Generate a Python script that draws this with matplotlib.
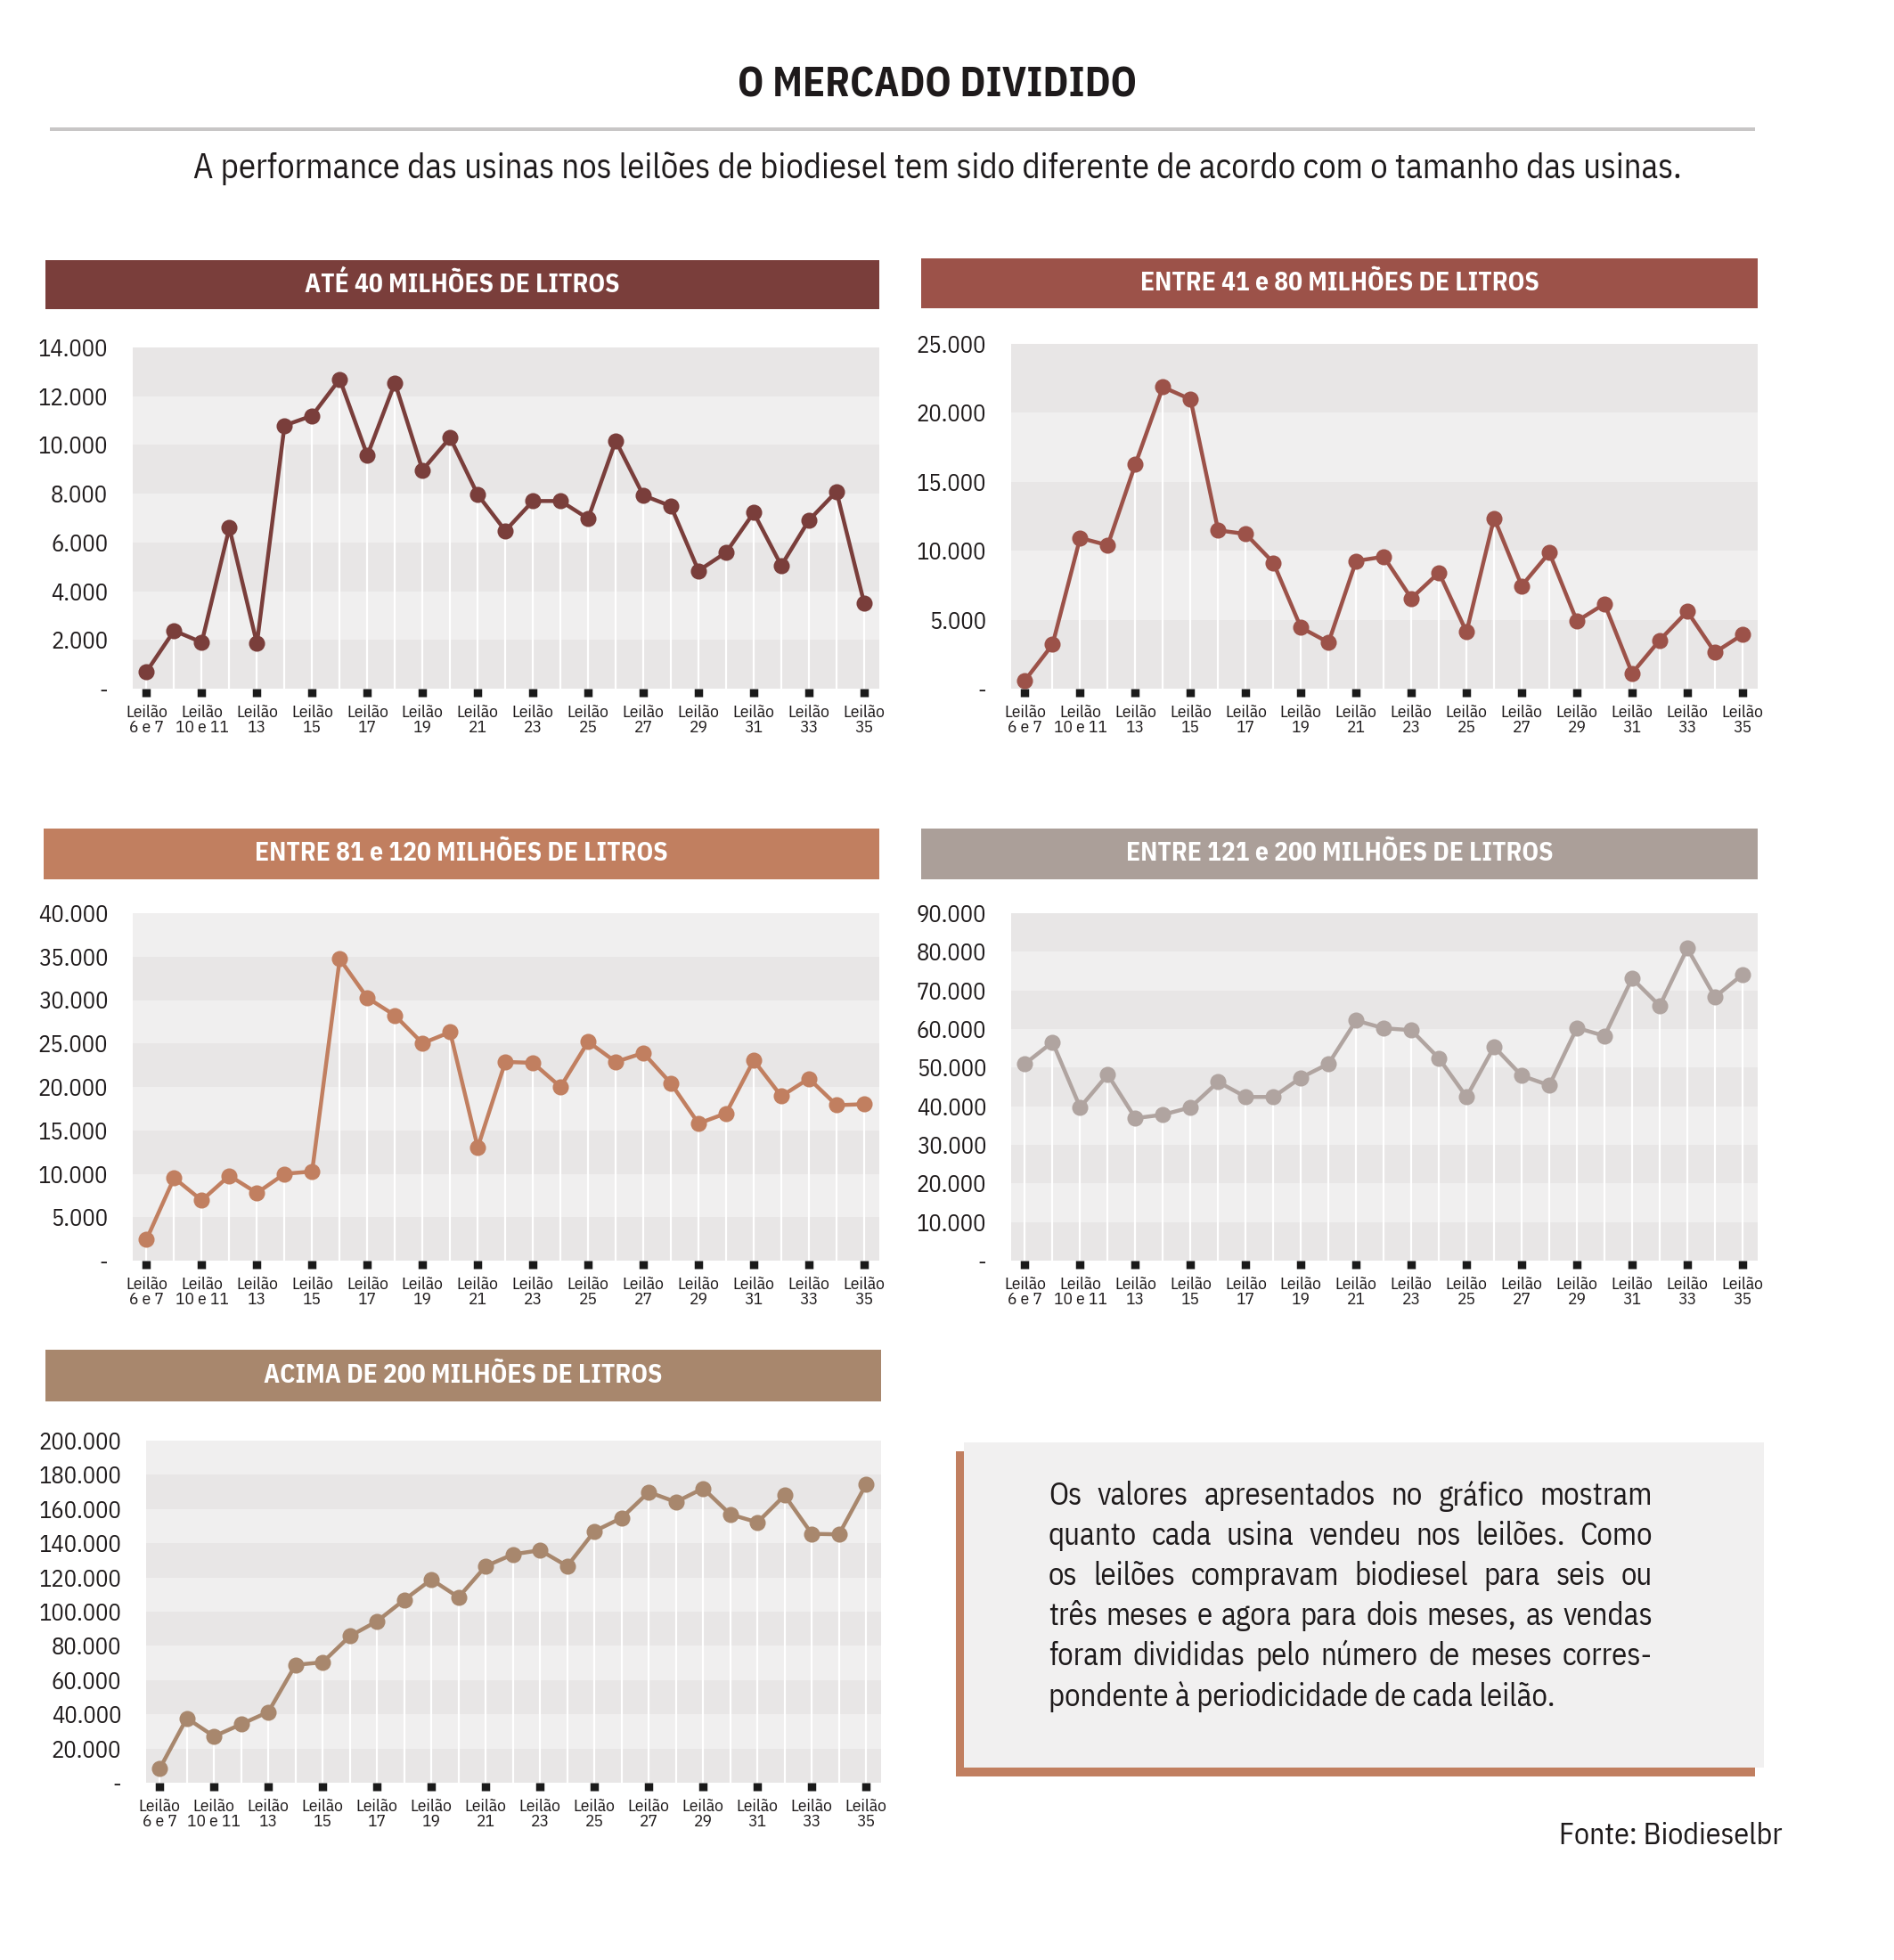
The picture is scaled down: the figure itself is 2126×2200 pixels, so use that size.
import matplotlib
matplotlib.use("Agg")
import matplotlib.pyplot as plt
from matplotlib.patches import Rectangle
from matplotlib.ticker import FuncFormatter

FONT = ["IBM Plex Sans Condensed", "DejaVu Sans"]
plt.rcParams["font.family"] = FONT

# leilões (27 pontos), rótulos só nos pares
leiloes = ["6 e 7", "8 e 9", "10 e 11", "12", "13", "14", "15", "16", "17", "18",
           "19", "20", "21", "22", "23", "24", "25", "26", "27", "28", "29", "30",
           "31", "32", "33", "34", "35"]

ate_40 = [700, 2380, 1900, 6600, 1850, 10800, 11200, 12700, 9570, 12550, 8970,
          10300, 7960, 6480, 7700, 7700, 6980, 10170, 7930, 7490, 4840, 5590,
          7220, 5050, 6910, 8090, 3520]
entre_41_80 = [600, 3200, 10930, 10400, 16270, 21870, 20980, 11480, 11220, 9140,
               4430, 3350, 9260, 9570, 6550, 8420, 4110, 12370, 7460, 9860, 4900,
               6150, 1120, 3520, 5600, 2630, 3920]
entre_81_120 = [2440, 9520, 6940, 9780, 7790, 10000, 10260, 34720, 30260, 28230,
                25020, 26310, 13030, 22880, 22770, 20000, 25200, 22880, 23910,
                20410, 15790, 16970, 23060, 18930, 20960, 17900, 18010]
entre_121_200 = [51000, 56600, 39700, 48200, 36900, 37800, 39700, 46300, 42400,
                 42400, 47400, 51000, 62200, 60200, 59700, 52400, 42400, 55400,
                 47900, 45400, 60300, 58200, 73100, 66000, 80900, 68300, 74100]
acima_200 = [8200, 37700, 27100, 34200, 41400, 68900, 70400, 85700, 94400, 106900,
             118800, 108400, 126600, 133500, 135900, 126600, 147000, 154800,
             169900, 164100, 172100, 156900, 152200, 168000, 145500, 145200, 174500]

titulos = ["ATÉ 40 MILHÕES DE LITROS", "ENTRE 41 e 80 MILHÕES DE LITROS",
           "ENTRE 81 e 120 MILHÕES DE LITROS", "ENTRE 121 e 200 MILHÕES DE LITROS",
           "ACIMA DE 200 MILHÕES DE LITROS"]
series = [ate_40, entre_41_80, entre_81_120, entre_121_200, acima_200]
ymax = [14000, 25000, 40000, 90000, 200000]
ystep = [2000, 5000, 5000, 10000, 20000]
cores_header = ["#7a3e3b", "#9c5249", "#c17f60", "#ab9f99", "#a8876d"]
cores_linha = ["#7a3e3b", "#9c5249", "#c17f60", "#b0a4a0", "#a8876d"]

nota = ["Os valores apresentados no gráfico mostram",
        "quanto cada usina vendeu nos leilões. Como",
        "os leilões compravam biodiesel para seis ou",
        "três meses e agora para dois meses, as vendas",
        "foram divididas pelo número de meses corres-",
        "pondente à periodicidade de cada leilão."]

W, H = 2126, 2200
TXT = "#1e1a1b"
fig = plt.figure(figsize=(W / 200, H / 200), dpi=200)
fig.patch.set_facecolor("white")


def px(x0, y0, x1, y1):
    # caixa em pixels da imagem -> fração da figura
    return [x0 / W, 1 - y1 / H, (x1 - x0) / W, (y1 - y0) / H]


fig.text(1052 / W, 1 - 96 / H, "O MERCADO DIVIDIDO", ha="center", va="center",
         fontsize=16.5, fontweight="bold", color=TXT)
fig.add_artist(Rectangle((56 / W, 1 - 147 / H), (1970 - 56) / W, 4 / H,
                         transform=fig.transFigure, color="#c8c6c6", lw=0))
fig.text(1052 / W, 1 - 189 / H,
         "A performance das usinas nos leilões de biodiesel tem sido diferente "
         "de acordo com o tamanho das usinas.",
         ha="center", va="center", fontsize=13.9, color=TXT)

headers = [(51, 292, 987, 347), (1034, 290, 1973, 346), (49, 930, 987, 987),
           (1034, 930, 1973, 987), (51, 1515, 989, 1573)]
plots = [(149, 390, 987, 773), (1135, 386, 1973, 773), (149, 1025, 987, 1415),
         (1135, 1025, 1973, 1415), (164, 1617, 989, 2001)]


def fmt(v, pos):
    if v == 0:
        return "-"
    return f"{int(v):,}".replace(",", ".")


xs = list(range(len(leiloes)))
xticks = xs[::2]
xlabels = ["Leilão\n" + leiloes[i] for i in xticks]

for i, vals in enumerate(series):
    b = px(*headers[i])
    fig.add_artist(Rectangle((b[0], b[1]), b[2], b[3], transform=fig.transFigure,
                             color=cores_header[i], lw=0))
    fig.text(b[0] + b[2] / 2, b[1] + b[3] / 2, titulos[i], ha="center", va="center",
             color="white", fontsize=10.6, fontweight="bold")

    ax = fig.add_axes(px(*plots[i]))
    ax.set_facecolor("#efefef")
    n_bands = ymax[i] // ystep[i]
    for k in range(n_bands):
        cor = "#e8e6e6" if k % 2 == 0 else "#f0efef"
        ax.axhspan(k * ystep[i], (k + 1) * ystep[i], color=cor, lw=0, zorder=0)
    ax.vlines(xs, 0, vals, color="white", lw=0.8, zorder=1)
    ax.plot(xs, vals, color=cores_linha[i], lw=1.6, marker="o", markersize=5.5,
            zorder=3)
    ax.set_xlim(-0.5, len(xs) - 0.45)
    ax.set_ylim(0, ymax[i])
    ax.set_yticks(range(0, ymax[i] + 1, ystep[i]))
    ax.yaxis.set_major_formatter(FuncFormatter(fmt))
    ax.set_xticks(xticks)
    ax.set_xticklabels(xlabels, fontsize=7, linespacing=0.95)
    ax.tick_params(axis="y", length=0, pad=10, labelsize=9.6, colors=TXT)
    ax.tick_params(axis="x", length=3.4, width=3.4, direction="out", pad=3,
                   color="#1a1a1a", labelcolor=TXT)
    for s in ax.spines.values():
        s.set_visible(False)

# caixa de nota
fig.add_artist(Rectangle((1073 / W, 1 - 1994 / H), (1970 - 1073) / W, (1994 - 1629) / H,
                         transform=fig.transFigure, color="#c17f60", lw=0))
fig.add_artist(Rectangle((1082 / W, 1 - 1984 / H), (1980 - 1082) / W, (1984 - 1619) / H,
                         transform=fig.transFigure, color="#f1f0f0", lw=0))

renderer = fig.canvas.get_renderer()
x_left, x_right = 1177, 1855
for j, linha in enumerate(nota):
    y = 1 - (1679 + j * 45) / H
    if j == len(nota) - 1:
        fig.text(x_left / W, y, linha, ha="left", va="center", fontsize=12.5,
                 color=TXT)
        continue
    palavras = linha.split(" ")
    arts = [fig.text(0, y, p, ha="left", va="center", fontsize=12.5, color=TXT)
            for p in palavras]
    larg = [a.get_window_extent(renderer).width for a in arts]
    gap = (x_right - x_left - sum(larg)) / (len(palavras) - 1)
    xpos = x_left
    for a, w in zip(arts, larg):
        a.set_x(xpos / W)
        xpos += w + gap

fig.text(2001 / W, 1 - 2061 / H, "Fonte: Biodieselbr", ha="right", va="center",
         fontsize=12.2, color=TXT)

fig.savefig("out.png", dpi=200, facecolor="white")
